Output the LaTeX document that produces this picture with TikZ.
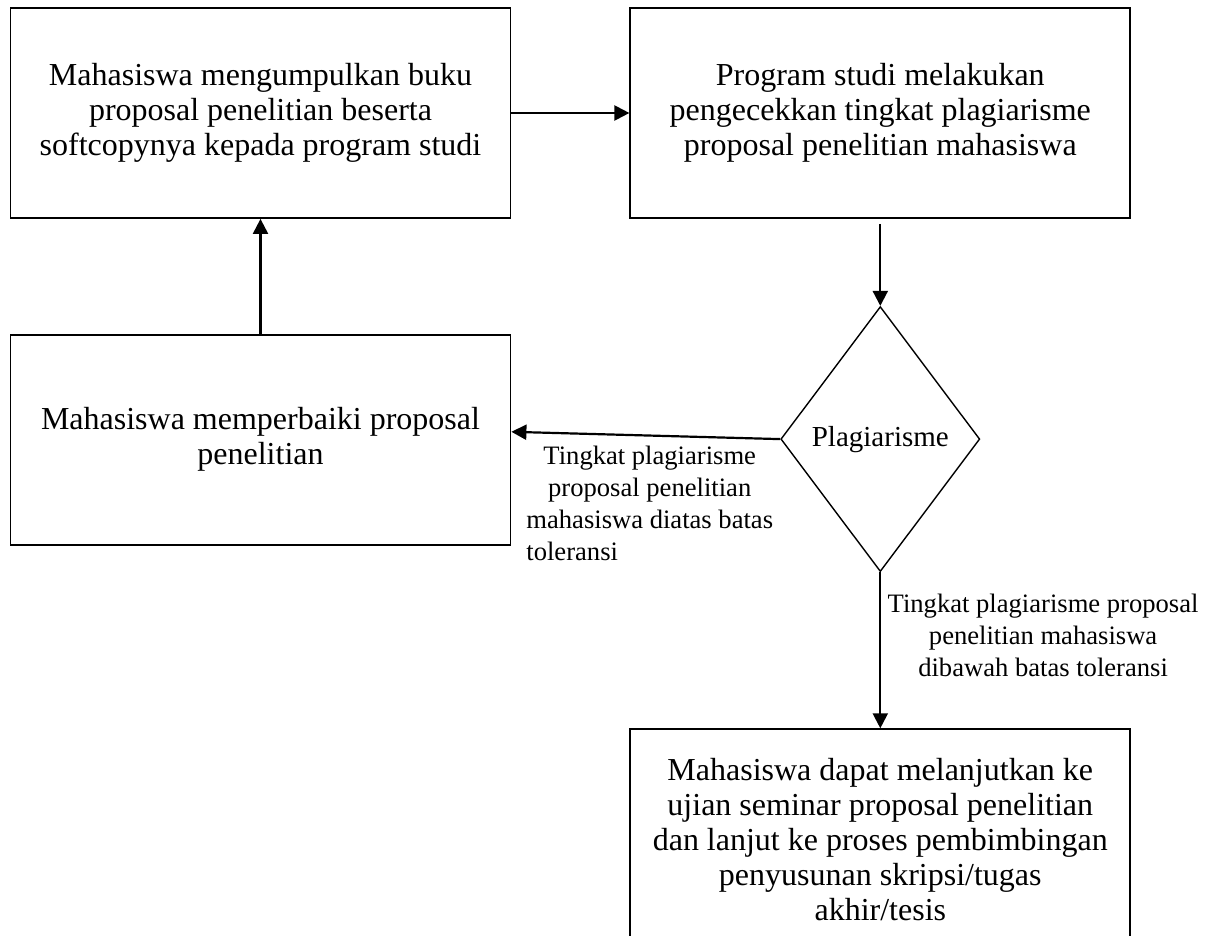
\documentclass[tikz,border=0pt]{standalone}
\usepackage{fontspec,calc}
\setmainfont{Liberation Serif}
\usetikzlibrary{arrows.meta,positioning,shapes.geometric,calc}
\tikzset{
  procbox/.style={draw, line width=0.9pt, minimum width=250pt, minimum height=105pt,
    align=center, font=\fontsize{16}{17.5}\selectfont},
  decision/.style={draw, diamond, line width=0.7pt, minimum width=99.5pt,
    minimum height=132.5pt, inner sep=0pt, font=\fontsize{14.5}{17}\selectfont},
  lbl/.style={align=center, inner sep=1pt, font=\fontsize{13.3}{16}\selectfont},
  flow/.style={-{Triangle[width=7.5pt,length=7.5pt]}, line width=1.1pt},
}

\begin{document}
\begin{tikzpicture}
  \useasboundingbox (0,0) rectangle (607.5pt,-468pt);
  \node[procbox] (kumpul) at (130.25pt,-56.5pt)
    {Mahasiswa mengumpulkan buku\\proposal penelitian beserta\\softcopynya kepada program studi};
  \node[procbox, right=59pt of kumpul] (cek)
    {Program studi melakukan\\pengecekkan tingkat plagiarisme\\proposal penelitian mahasiswa};
  \node[procbox, below=57.5pt of kumpul] (perbaiki)
    {Mahasiswa memperbaiki proposal\\penelitian};
  \node[decision, below=43.5pt of cek] (plagiat) {Plagiarisme};
  \node[procbox, minimum height=110pt, below=78pt of plagiat] (lanjut)
    {Mahasiswa dapat melanjutkan ke\\ujian seminar proposal penelitian\\dan lanjut ke proses pembimbingan\\penyusunan skripsi/tugas\\akhir/tesis};

  \draw[flow] (kumpul) -- (cek);
  \draw[flow, shorten <=2.5pt] (cek) -- (plagiat);
  \draw[flow] (plagiat.west) -- ([yshift=4pt]perbaiki.east);
  \draw[flow] (perbaiki) -- (kumpul);
  \draw[flow] (plagiat) -- (lanjut);

  \coordinate (tengah) at ($(perbaiki.east)!.5!(plagiat.west)$);
  \node[lbl, below=2pt of tengah, xshift=2pt] (diatas)
    {Tingkat plagiarisme\\proposal penelitian\\mahasiswa diatas batas\\\makebox[\widthof{mahasiswa diatas batas}][l]{toleransi}};
  \node[lbl, below right=9.5pt and 2.5pt of plagiat.south] (dibawah)
    {Tingkat plagiarisme proposal\\penelitian mahasiswa\\dibawah batas toleransi};
\end{tikzpicture}
\end{document}
